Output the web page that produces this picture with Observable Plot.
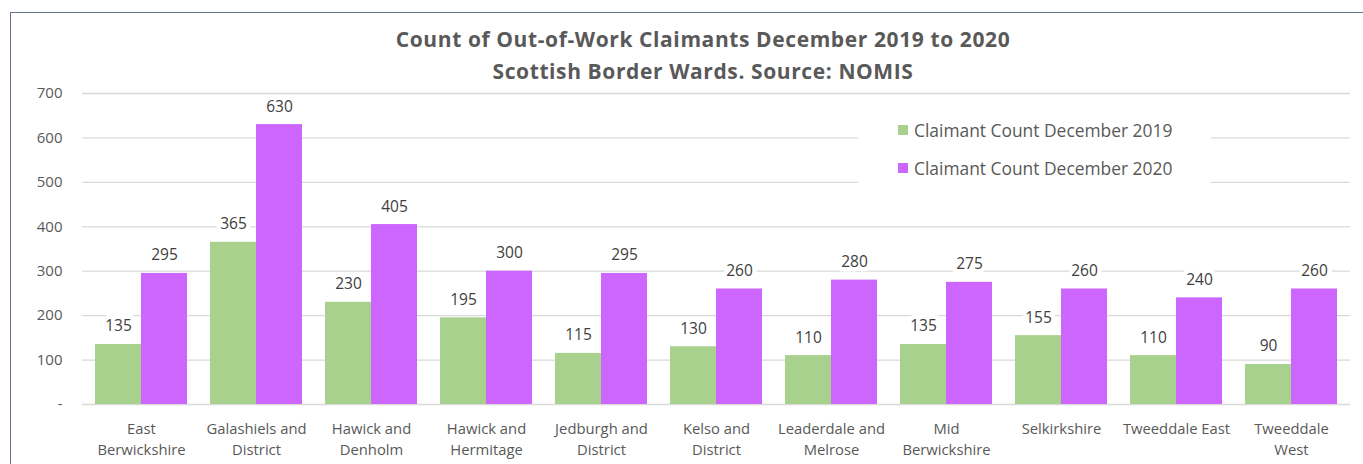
<!DOCTYPE html>
<html>
<head>
<meta charset="utf-8">
<script src="https://cdn.jsdelivr.net/npm/d3@7"></script>
<script src="https://cdn.jsdelivr.net/npm/@observablehq/plot@0.6"></script>
<style>
  html, body { margin: 0; padding: 0; background: #fff; }
  #wrap { position: relative; width: 1363px; height: 464px; overflow: hidden; font-family: "Open Sans", sans-serif; color: #595959; }
  #frame { position: absolute; left: 10px; top: 12px; width: 1400px; height: 500px; border: 1.5px solid #64768a; box-sizing: border-box; }
  #title { position: absolute; left: 0; top: 23px; width: 1406px; text-align: center; font-weight: bold; font-size: 21px; letter-spacing: 0.6px; line-height: 32px; color: #595959; }
  #grid, #chart { position: absolute; left: 0; top: 70px; }
  #legend { position: absolute; left: 858px; top: 112px; width: 353px; height: 80px; background: #fff; }
  .item { position: absolute; left: 40px; display: flex; align-items: center; font-size: 17.4px; white-space: nowrap; }
  .sw { width: 10px; height: 10px; margin-right: 6px; }
</style>
</head>
<body>
<div id="wrap">
  <div id="frame"></div>
  <div id="title"></div>
  <div id="grid"></div>
  <div id="chart"></div>
  <div id="legend"></div>
</div>
<script>
const titleLines = ["Count of Out-of-Work Claimants December 2019 to 2020", "Scottish Border Wards. Source: NOMIS"];
const categories = ["East Berwickshire", "Galashiels and District", "Hawick and Denholm", "Hawick and Hermitage", "Jedburgh and District", "Kelso and District", "Leaderdale and Melrose", "Mid Berwickshire", "Selkirkshire", "Tweeddale East", "Tweeddale West"];
const categoryLabels = ["East\nBerwickshire", "Galashiels and\nDistrict", "Hawick and\nDenholm", "Hawick and\nHermitage", "Jedburgh and\nDistrict", "Kelso and\nDistrict", "Leaderdale and\nMelrose", "Mid\nBerwickshire", "Selkirkshire", "Tweeddale East", "Tweeddale\nWest"];
const values2019 = [135, 365, 230, 195, 115, 130, 110, 135, 155, 110, 90];
const values2020 = [295, 630, 405, 300, 295, 260, 280, 275, 260, 240, 260];
const seriesNames = ["Claimant Count December 2019", "Claimant Count December 2020"];
const seriesColors = ["#A9D18E", "#CC66FF"];
const yTicks = [0, 100, 200, 300, 400, 500, 600, 700];

document.getElementById("title").innerHTML = titleLines.map(t => `<div>${t}</div>`).join("");

const legend = document.getElementById("legend");
seriesNames.forEach((name, i) => {
  const el = document.createElement("div");
  el.className = "item";
  el.style.top = (6 + i * 38) + "px";
  el.innerHTML = `<span class="sw" style="background:${seriesColors[i]}"></span><span>${name}</span>`;
  legend.appendChild(el);
});

const data = categories.flatMap((c, i) => [
  {ward: c, series: seriesNames[0], value: values2019[i]},
  {ward: c, series: seriesNames[1], value: values2020[i]}
]);
const labelOf = new Map(categories.map((c, i) => [c, categoryLabels[i]]));

const dims = {width: 1363, height: 394, marginTop: 23, marginBottom: 60, marginLeft: 82, marginRight: 13};
const baseStyle = {fontFamily: "Open Sans, sans-serif", fontSize: "15px", color: "#595959", background: "transparent"};

// Background layer: gridlines and y axis spanning the whole plot area
const grid = Plot.plot({
  ...dims,
  style: baseStyle,
  y: {domain: [0, 700], label: null},
  marks: [
    Plot.ruleY(yTicks, {stroke: "#d9d9d9", strokeWidth: 1.3}),
    Plot.axisY({ticks: yTicks, tickFormat: d => d === 0 ? "-" : String(d), tickSize: 0, tickPadding: 20, label: null, fontSize: 15})
  ]
});
document.getElementById("grid").appendChild(grid);

// Foreground layer: grouped bars
const chart = Plot.plot({
  ...dims,
  style: baseStyle,
  fx: {domain: categories, paddingInner: 0.2, paddingOuter: 0.1, label: null},
  x: {domain: seriesNames, padding: 0, axis: null},
  y: {domain: [0, 700], axis: null},
  color: {domain: seriesNames, range: seriesColors},
  marks: [
    Plot.axisFx({anchor: "bottom", tickFormat: d => labelOf.get(d), tickSize: 0, tickPadding: 14, lineHeight: 1.45, label: null, fontSize: 14.8}),
    Plot.barY(data, {fx: "ward", x: "series", y: "value", fill: "series"}),
    Plot.text(data, {fx: "ward", x: "series", y: "value", text: d => String(d.value), dy: -18, fill: "#404040", stroke: "white", strokeWidth: 9, fontSize: 15.5})
  ]
});
document.getElementById("chart").appendChild(chart);
</script>
</body>
</html>
